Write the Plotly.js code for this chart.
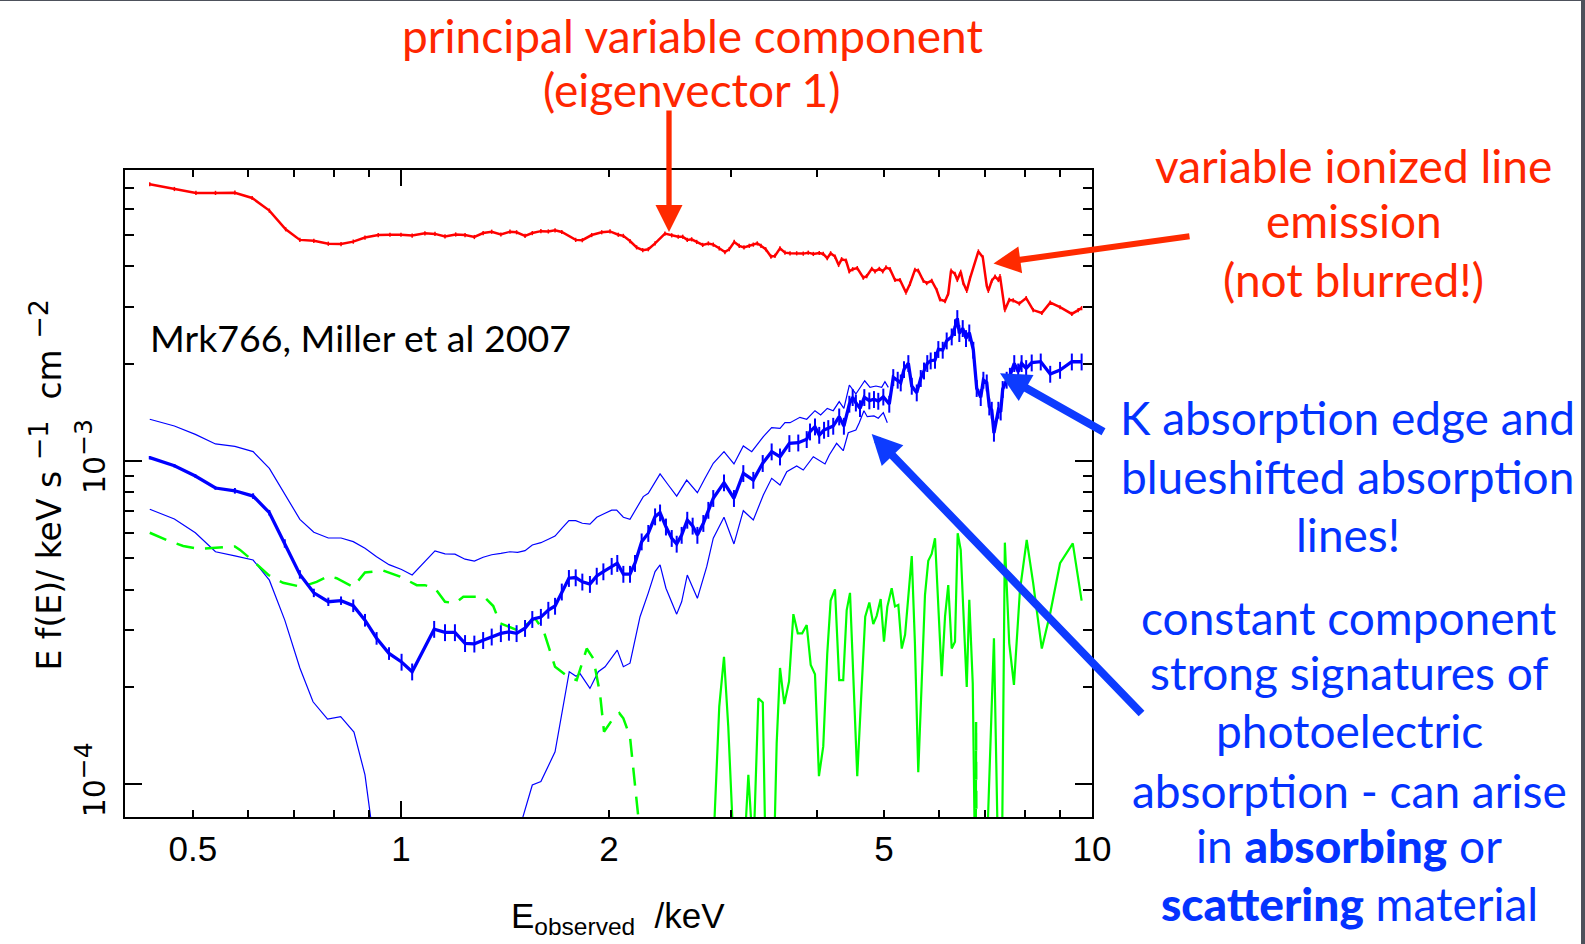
<!DOCTYPE html>
<html>
<head>
<meta charset="utf-8">
<script src="https://cdn.plot.ly/plotly-3.0.1.min.js"></script>
<style>
  html, body { margin: 0; padding: 0; width: 1585px; height: 944px; overflow: hidden; background: #4d515b; }
  #chart { position: absolute; left: 0; top: 1px; width: 1581px; height: 943px; background: #ffffff; }
</style>
</head>
<body>
<div id="chart"></div>
<script>
// Mrk 766 spectral decomposition (Miller et al. 2007): E f(E) versus observed energy.

// Principal variable component (eigenvector 1)
const redEnergy = [0.433,0.470,0.505,0.539,0.575,0.609,0.645,0.681,0.714,0.748,
  0.785,0.819,0.853,0.887,0.927,0.964,1.000,1.038,1.083,1.120,
  1.158,1.200,1.238,1.277,1.315,1.353,1.395,1.438,1.470,1.512,
  1.549,1.594,1.634,1.671,1.709,1.790,1.830,1.888,1.952,2.007,
  2.063,2.098,2.145,2.193,2.238,2.280,2.332,2.410,2.465,2.519,
  2.557,2.596,2.634,2.679,2.733,2.785,2.831,2.888,2.943,2.986,
  3.036,3.087,3.136,3.192,3.235,3.278,3.319,3.371,3.431,3.477,
  3.536,3.595,3.656,3.738,3.821,3.885,3.951,4.030,4.084,4.139,
  4.186,4.247,4.299,4.342,4.406,4.455,4.505,4.574,4.667,4.720,
  4.800,4.853,4.923,4.979,5.034,5.102,5.187,5.274,5.380,5.452,
  5.543,5.605,5.700,5.765,5.861,5.960,6.026,6.128,6.194,6.252,
  6.335,6.384,6.457,6.513,6.588,6.660,6.848,6.949,7.042,7.079,
  7.160,7.240,7.320,7.360,7.480,7.590,7.690,7.850,8.030,8.220,
  8.460,8.700,8.990,9.350,9.550,9.660];
const redFlux = [7.18e-3,6.94e-3,6.75e-3,6.75e-3,6.76e-3,6.51e-3,5.95e-3,5.21e-3,4.83e-3,4.80e-3,
  4.70e-3,4.69e-3,4.77e-3,4.91e-3,5.00e-3,5.01e-3,5.01e-3,4.98e-3,5.06e-3,5.04e-3,
  4.95e-3,5.02e-3,5.00e-3,4.93e-3,5.07e-3,5.12e-3,5.02e-3,5.12e-3,5.10e-3,4.97e-3,
  5.07e-3,5.14e-3,5.13e-3,5.17e-3,5.11e-3,4.83e-3,4.82e-3,5.00e-3,5.10e-3,5.13e-3,
  5.01e-3,4.97e-3,4.79e-3,4.58e-3,4.49e-3,4.52e-3,4.71e-3,5.05e-3,4.99e-3,4.94e-3,
  4.94e-3,4.83e-3,4.85e-3,4.76e-3,4.66e-3,4.71e-3,4.67e-3,4.55e-3,4.43e-3,4.52e-3,
  4.76e-3,4.63e-3,4.58e-3,4.63e-3,4.67e-3,4.71e-3,4.63e-3,4.52e-3,4.29e-3,4.31e-3,
  4.55e-3,4.41e-3,4.39e-3,4.39e-3,4.38e-3,4.41e-3,4.37e-3,4.40e-3,4.37e-3,4.24e-3,
  4.39e-3,4.29e-3,4.04e-3,4.21e-3,4.17e-3,3.86e-3,3.92e-3,3.95e-3,3.69e-3,3.73e-3,
  3.93e-3,3.86e-3,3.93e-3,3.86e-3,3.97e-3,3.92e-3,3.63e-3,3.63e-3,3.32e-3,3.53e-3,
  3.90e-3,3.88e-3,3.61e-3,3.55e-3,3.61e-3,3.38e-3,3.16e-3,3.12e-3,3.29e-3,3.88e-3,
  3.79e-3,3.63e-3,3.85e-3,3.55e-3,3.36e-3,3.67e-3,4.45e-3,4.27e-3,3.48e-3,3.36e-3,
  3.61e-3,3.72e-3,3.63e-3,3.73e-3,2.93e-3,3.15e-3,3.14e-3,3.07e-3,3.19e-3,2.93e-3,
  2.87e-3,3.09e-3,2.99e-3,2.85e-3,2.93e-3,2.97e-3];

// Constant component with its error-bar percentages
const blueEnergy = [0.433,0.470,0.504,0.539,0.575,0.611,0.645,0.679,0.714,0.748,
  0.785,0.819,0.853,0.887,0.922,0.961,1.002,1.038,1.117,1.158,
  1.197,1.238,1.277,1.315,1.353,1.395,1.433,1.470,1.512,1.549,
  1.594,1.634,1.671,1.709,1.750,1.790,1.830,1.877,1.920,1.963,
  2.018,2.056,2.098,2.145,2.181,2.230,2.280,2.332,2.371,2.418,
  2.465,2.506,2.548,2.596,2.643,2.685,2.739,2.785,2.831,2.934,
  3.033,3.129,3.235,3.338,3.439,3.536,3.648,3.758,3.865,3.908,
  3.973,4.030,4.095,4.153,4.222,4.307,4.375,4.455,4.505,4.553,
  4.616,4.683,4.762,4.836,4.906,4.989,5.089,5.157,5.234,5.287,
  5.345,5.423,5.485,5.577,5.652,5.713,5.776,5.842,5.927,5.993,
  6.081,6.162,6.266,6.335,6.384,6.427,6.500,6.572,6.644,6.734,
  6.810,6.902,6.963,7.042,7.102,7.160,7.213,7.320,7.377,7.426,
  7.525,7.607,7.718,7.820,7.909,8.030,8.180,8.430,8.700,8.990,
  9.350,9.660];
const blueFlux = [1.024e-3,0.967e-3,0.899e-3,0.825e-3,0.809e-3,0.779e-3,0.692e-3,0.556e-3,0.446e-3,0.391e-3,
  0.367e-3,0.370e-3,0.357e-3,0.322e-3,0.283e-3,0.254e-3,0.239e-3,0.223e-3,0.302e-3,0.295e-3,
  0.295e-3,0.273e-3,0.272e-3,0.279e-3,0.286e-3,0.293e-3,0.296e-3,0.293e-3,0.304e-3,0.324e-3,
  0.329e-3,0.346e-3,0.356e-3,0.394e-3,0.434e-3,0.436e-3,0.423e-3,0.416e-3,0.441e-3,0.455e-3,
  0.473e-3,0.483e-3,0.447e-3,0.447e-3,0.483e-3,0.563e-3,0.598e-3,0.673e-3,0.692e-3,0.626e-3,
  0.577e-3,0.554e-3,0.590e-3,0.657e-3,0.630e-3,0.590e-3,0.642e-3,0.705e-3,0.767e-3,0.857e-3,
  0.767e-3,0.916e-3,0.873e-3,0.984e-3,1.069e-3,1.031e-3,1.134e-3,1.139e-3,1.167e-3,1.232e-3,
  1.277e-3,1.203e-3,1.247e-3,1.262e-3,1.283e-3,1.371e-3,1.283e-3,1.501e-3,1.574e-3,1.514e-3,
  1.455e-3,1.574e-3,1.537e-3,1.552e-3,1.533e-3,1.580e-3,1.501e-3,1.815e-3,1.781e-3,1.747e-3,
  1.921e-3,2.005e-3,1.706e-3,1.627e-3,1.803e-3,1.902e-3,2.005e-3,2.043e-3,2.053e-3,2.216e-3,
  2.205e-3,2.356e-3,2.424e-3,2.591e-3,2.763e-3,2.483e-3,2.573e-3,2.396e-3,2.494e-3,2.205e-3,
  1.679e-3,1.574e-3,1.781e-3,1.747e-3,1.472e-3,1.438e-3,1.221e-3,1.438e-3,1.420e-3,1.667e-3,
  1.781e-3,1.832e-3,2.005e-3,1.889e-3,2.005e-3,1.935e-3,2.014e-3,2.028e-3,1.858e-3,1.911e-3,
  2.028e-3,2.028e-3];
const blueErrPct = [1.2,1.2,1.2,1.2,2,2,2,3,3,3,
  3,3,4.5,4.5,4.5,4.5,6,6,6,6,
  6,6,6,6,6,6,6,6,6,6,
  6,6,6,6,6,6,6,6,6,6,
  6,6,6,6,6,6,6,6,6,6,
  6,6,6,6,6,6,6,6,6,6,
  6,6,6,6,6,6,6,6,6,6,
  6,6,6,6,6,6,6,6,6,6,
  6,6,6,6,6,6,6,6,6,6,
  6,6,6,6,6,6,6,6,6,6,
  6,6,6,6,6,6,6,6,6,6,
  6,6,6,6,6,6,6,6,6,6,
  6,6,6,6,6,6,6,6,6,6,
  6,6];

// Upper and lower bounds of the constant component
const upperEnergy = [0.433,0.470,0.504,0.539,0.575,0.611,0.645,0.679,0.714,0.748,
  0.785,0.819,0.853,0.887,0.922,0.961,1.002,1.038,1.120,1.158,
  1.197,1.238,1.277,1.315,1.353,1.395,1.438,1.475,1.512,1.549,
  1.594,1.634,1.671,1.709,1.750,1.790,1.830,1.877,1.920,1.974,
  2.018,2.052,2.098,2.145,2.193,2.242,2.280,2.371,2.437,2.506,
  2.591,2.685,2.754,2.831,2.934,3.033,3.129,3.218,3.345,3.439,
  3.536,3.595,3.656,3.779,3.865,3.973,4.049,4.139,4.222,4.307,
  4.375,4.455,4.553,4.689,4.773,4.868,4.962,5.016,5.073];
const upperFlux = [1.346e-3,1.283e-3,1.209e-3,1.129e-3,1.110e-3,1.069e-3,0.949e-3,0.789e-3,0.660e-3,0.602e-3,
  0.578e-3,0.578e-3,0.563e-3,0.537e-3,0.506e-3,0.478e-3,0.462e-3,0.444e-3,0.527e-3,0.516e-3,
  0.515e-3,0.497e-3,0.490e-3,0.504e-3,0.513e-3,0.518e-3,0.524e-3,0.522e-3,0.528e-3,0.550e-3,
  0.559e-3,0.573e-3,0.586e-3,0.619e-3,0.654e-3,0.654e-3,0.642e-3,0.638e-3,0.670e-3,0.689e-3,
  0.705e-3,0.705e-3,0.670e-3,0.660e-3,0.719e-3,0.776e-3,0.795e-3,0.912e-3,0.843e-3,0.779e-3,
  0.873e-3,0.798e-3,0.884e-3,0.984e-3,1.069e-3,0.979e-3,1.113e-3,1.069e-3,1.189e-3,1.268e-3,
  1.262e-3,1.314e-3,1.314e-3,1.365e-3,1.346e-3,1.431e-3,1.388e-3,1.455e-3,1.431e-3,1.526e-3,
  1.455e-3,1.718e-3,1.612e-3,1.771e-3,1.690e-3,1.706e-3,1.690e-3,1.759e-3,1.690e-3];
const lowerEnergy = [0.433,0.470,0.504,0.539,0.575,0.611,0.645,0.679,0.714,0.746,
  0.783,0.818,0.855,0.887,0.904,0.914,null,
  1.467,1.500,1.549,1.594,1.671,1.752,1.792,1.816,1.877,1.930,
  1.974,2.056,2.098,2.145,2.181,2.218,2.280,2.332,2.371,2.418,
  2.506,2.548,2.596,2.685,2.770,2.831,2.934,3.033,3.129,3.235,
  3.345,3.439,3.536,3.617,3.738,3.821,3.951,4.108,4.167,4.270,
  4.365,4.439,4.553,4.605,4.677,4.729,4.836,4.906,4.989,5.056];
const lowerFlux = [0.709e-3,0.662e-3,0.600e-3,0.524e-3,0.509e-3,0.494e-3,0.428e-3,0.322e-3,0.229e-3,0.180e-3,
  0.159e-3,0.162e-3,0.145e-3,0.107e-3,0.079e-3,0.067e-3,null,
  0.067e-3,0.079e-3,0.0995e-3,0.102e-3,0.126e-3,0.223e-3,0.216e-3,0.220e-3,0.198e-3,0.223e-3,
  0.231e-3,0.260e-3,0.231e-3,0.237e-3,0.279e-3,0.330e-3,0.391e-3,0.455e-3,0.477e-3,0.404e-3,
  0.336e-3,0.367e-3,0.444e-3,0.376e-3,0.471e-3,0.577e-3,0.670e-3,0.554e-3,0.702e-3,0.657e-3,
  0.785e-3,0.884e-3,0.843e-3,0.927e-3,0.965e-3,0.938e-3,1.031e-3,0.979e-3,1.044e-3,1.134e-3,
  1.076e-3,1.223e-3,1.247e-3,1.314e-3,1.431e-3,1.371e-3,1.378e-3,1.356e-3,1.411e-3,1.314e-3];

// Model component (dashed) and residual variable emission (solid green)
const dashEnergy = [0.433,0.460,0.484,0.506,0.520,0.550,0.575,0.585,0.611,0.643,
  0.675,0.718,0.755,0.785,0.807,0.853,0.887,0.943,0.997,1.054,
  1.083,1.120,1.158,1.197,1.231,1.294,1.323,1.360,1.391,1.478,
  1.563,1.607,1.671,1.746,1.796,1.857,1.898,1.941,1.967,2.029,
  2.070,2.098,2.145,2.205,2.225,null,6.785,6.795,6.805];
const dashFlux = [0.600e-3,0.567e-3,0.546e-3,0.536e-3,0.536e-3,0.541e-3,0.544e-3,0.531e-3,0.491e-3,0.444e-3,
  0.420e-3,0.408e-3,0.423e-3,0.441e-3,0.434e-3,0.408e-3,0.452e-3,0.458e-3,0.439e-3,0.413e-3,
  0.413e-3,0.404e-3,0.367e-3,0.363e-3,0.380e-3,0.380e-3,0.378e-3,0.356e-3,0.315e-3,0.299e-3,
  0.326e-3,0.300e-3,0.231e-3,0.215e-3,0.210e-3,0.263e-3,0.245e-3,0.191e-3,0.1455e-3,0.160e-3,
  0.166e-3,0.160e-3,0.1404e-3,0.0794e-3,0.0673e-3,null,0.06e-3,0.156e-3,0.06e-3];
const greenEnergy = [2.828,2.888,2.934,2.976,3.033,3.136,3.182,3.235,3.290,3.339,
  3.370,3.466,3.497,3.536,3.587,3.644,3.697,3.752,3.807,3.865,
  3.917,3.973,4.026,4.084,4.139,4.186,4.247,4.307,4.365,4.416,
  4.465,4.524,4.574,4.642,4.697,4.762,4.825,4.880,4.945,5.000,
  5.056,5.130,5.187,5.245,5.305,5.364,5.485,5.543,5.605,5.669,
  5.732,5.795,5.861,5.927,5.993,6.061,6.128,6.194,6.266,6.335,
  6.392,6.457,6.513,6.588,6.644,6.721,6.770,7.042,7.213,7.311,
  7.409,7.480,7.590,7.710,7.866,8.045,8.220,8.460,8.700,8.990,
  9.380,9.660];
const greenFlux = [0.6e-4,1.74e-4,2.48e-4,1.51e-4,0.6e-4,0.6e-4,1.07e-4,0.6e-4,1.845e-4,1.79e-4,
  0.6e-4,0.6e-4,1.34e-4,2.29e-4,1.77e-4,2.08e-4,3.36e-4,2.93e-4,2.93e-4,3.11e-4,
  2.34e-4,2.19e-4,1.06e-4,1.31e-4,2.54e-4,3.70e-4,4.01e-4,2.10e-4,2.10e-4,3.46e-4,
  3.91e-4,2.05e-4,1.06e-4,2.00e-4,3.30e-4,3.65e-4,3.13e-4,3.32e-4,3.74e-4,2.76e-4,
  3.54e-4,4.04e-4,3.55e-4,3.59e-4,2.63e-4,2.90e-4,5.08e-4,2.73e-4,1.09e-4,2.05e-4,
  3.85e-4,4.91e-4,5.16e-4,5.77e-4,3.63e-4,2.16e-4,3.30e-4,4.13e-4,2.63e-4,2.76e-4,
  5.98e-4,5.31e-4,3.46e-4,2.00e-4,3.72e-4,2.05e-4,0.6e-4,0.6e-4,2.83e-4,0.6e-4,
  0.6e-4,5.59e-4,2.73e-4,2.03e-4,3.99e-4,5.70e-4,4.19e-4,2.63e-4,3.38e-4,4.83e-4,
  5.56e-4,3.70e-4];

// Axis ticks
const xLabelVals = [0.5, 1, 2, 5, 10];
const xLabelText = ['0.5', '1', '2', '5', '10'];
const xDecadeVals = [1, 10];
const xMinorVals = [0.6, 0.7, 0.8, 0.9, 3, 4, 6, 7, 8, 9];
const yMajorVals = [1e-4, 1e-3];
const yMajorText = ['10<sup><span style="font-size:25px">−4</span></sup>',
                    '10<sup><span style="font-size:25px">−3</span></sup>'];
const yMinorVals = [2e-4, 3e-4, 4e-4, 5e-4, 6e-4, 7e-4, 8e-4, 9e-4, 2e-3, 3e-3, 4e-3, 5e-3, 6e-3, 7e-3];

const blueErr = blueFlux.map((f, i) => f * blueErrPct[i] / 100);

const traces = [
  { x: upperEnergy, y: upperFlux, mode: 'lines', line: { color: '#0000ff', width: 1.2 } },
  { x: lowerEnergy, y: lowerFlux, mode: 'lines', connectgaps: false, line: { color: '#0000ff', width: 1.2 } },
  { x: dashEnergy, y: dashFlux, mode: 'lines', connectgaps: false, line: { color: '#00ff00', width: 2.5, dash: '18px,11px' } },
  { x: greenEnergy, y: greenFlux, mode: 'lines', line: { color: '#00ff00', width: 2.2 } },
  { x: blueEnergy, y: blueFlux, mode: 'lines', line: { color: '#0000ff', width: 3.3 },
    error_y: { type: 'data', array: blueErr, color: '#0000ff', thickness: 2, width: 0 } },
  { x: redEnergy, y: redFlux, mode: 'lines', line: { color: '#ff0000', width: 2.5 },
    error_y: { type: 'percent', value: 1.5, color: '#ff0000', thickness: 1.5, width: 0 } },
  { x: [], y: [], mode: 'lines', xaxis: 'x2', yaxis: 'y' }
];

// plot frame in page pixels: x 125..1092, y 170..817
const PL = 125, PR = 1092, PT = 170, PB = 817;
const px = v => (v - PL) / (PR - PL);
const py = v => (PB - v) / (PB - PT);

const TXT = 'Lato, "Open Sans", sans-serif';
const AXF = '"DejaVu Sans", "Liberation Sans", sans-serif';
const RED = '#ff2600';
const BLUE = '#0433ff';

function label(text, x, y, color, size, extra) {
  return Object.assign({
    text: text, xref: 'paper', yref: 'paper', x: px(x), y: py(y),
    xanchor: 'center', yanchor: 'middle', showarrow: false,
    font: { family: TXT, size: size, color: color }
  }, extra || {});
}
function arrow(tipX, tipY, tailX, tailY, color, width, size) {
  return {
    text: '', xref: 'paper', yref: 'paper', x: px(tipX), y: py(tipY),
    axref: 'pixel', ayref: 'pixel', ax: tailX - tipX, ay: tailY - tipY,
    showarrow: true, arrowhead: 2, arrowsize: size, arrowwidth: width,
    arrowcolor: color, standoff: 0
  };
}

const heavy = t => '<span style="font-weight:900">' + t + '</span>';

const annotations = [
  label('principal variable component', 692, 35.5, RED, 46),
  label('(eigenvector 1)', 692, 90, RED, 46),
  label('variable ionized line', 1353.5, 165, RED, 46),
  label('emission', 1353.5, 220.5, RED, 46),
  label('(not blurred!)', 1353.5, 279, RED, 46),
  label('K absorption edge and', 1347.5, 417.6, BLUE, 46),
  label('blueshifted absorption', 1347.5, 476, BLUE, 46),
  label('lines!', 1347.5, 534, BLUE, 46),
  label('constant component', 1349, 617, BLUE, 46),
  label('strong signatures of', 1349, 672, BLUE, 46),
  label('photoelectric', 1349, 730.7, BLUE, 46),
  label('absorption - can arise', 1349, 790, BLUE, 46),
  label('in ' + heavy('absorbing') + ' or', 1349, 845.7, BLUE, 46),
  label(heavy('scattering') + ' material', 1349, 903.3, BLUE, 46),
  label('Mrk766, Miller et al 2007', 148, 337, '#000000', 37.5, { xanchor: 'left' }),
  label('E<sub>observed</sub>\u00a0 /keV', 618, 918, '#000000', 35,
    { font: { family: 'Liberation Sans, Arial, sans-serif', size: 35, color: '#000000' } }),
  label('E f(E)/ keV s\u00a0<sup><span style="font-size:27px">−1</span></sup>\u00a0\u00a0cm\u00a0<sup><span style="font-size:27px">−2</span></sup>',
    45.5, 485, '#000000', 33,
    { textangle: -90, font: { family: AXF, size: 33, color: '#000000' } }),
  arrow(669, 232, 669, 109, '#ff2a00', 5.3, 1.02),
  arrow(993.5, 263.5, 1191, 236, '#ff2a00', 6, 0.9),
  arrow(1000, 373.3, 1105, 432.6, '#0d3bff', 8, 0.75),
  arrow(871.7, 434, 1143, 715, '#0d3bff', 8, 0.75)
];

const axisFont = { family: 'Liberation Sans, Arial, sans-serif', size: 35, color: '#000000' };

const layout = {
  width: 1581, height: 943,
  margin: { l: 125, r: 489, t: 169, b: 127, pad: 0 },
  paper_bgcolor: '#ffffff', plot_bgcolor: '#ffffff',
  showlegend: false, hovermode: false,
  xaxis: {
    type: 'log', range: [Math.log10(0.3987), 1],
    tickmode: 'array', tickvals: xLabelVals, ticktext: xLabelText,
    ticks: 'inside', ticklen: 7, tickwidth: 2, tickcolor: '#000000',
    showline: true, linewidth: 2, linecolor: '#000000', mirror: 'ticks',
    showgrid: false, zeroline: false, tickfont: axisFont,
    minor: { tickmode: 'array', tickvals: xMinorVals, ticks: 'inside', ticklen: 7, tickwidth: 2, tickcolor: '#000000', showgrid: false }
  },
  xaxis2: {
    type: 'log', range: [Math.log10(0.3987), 1], overlaying: 'x', anchor: 'y', side: 'bottom',
    tickmode: 'array', tickvals: xDecadeVals, showticklabels: false,
    ticks: 'inside', ticklen: 16, tickwidth: 2, tickcolor: '#000000',
    showline: false, mirror: 'ticks', showgrid: false, zeroline: false
  },
  yaxis: {
    type: 'log', range: [-4.1011, -2.0999],
    tickmode: 'array', tickvals: yMajorVals, ticktext: yMajorText, tickangle: -90,
    ticks: 'inside', ticklen: 17, tickwidth: 2, tickcolor: '#000000',
    showline: true, linewidth: 2, linecolor: '#000000', mirror: 'ticks',
    showgrid: false, zeroline: false, ticklabelstandoff: 6,
    tickfont: { family: AXF, size: 30, color: '#000000' },
    minor: { tickmode: 'array', tickvals: yMinorVals, ticks: 'inside', ticklen: 9, tickwidth: 2, tickcolor: '#000000', showgrid: false }
  },
  annotations: annotations
};

Plotly.newPlot('chart', traces, layout, { staticPlot: true, displayModeBar: false });
</script>
</body>
</html>
